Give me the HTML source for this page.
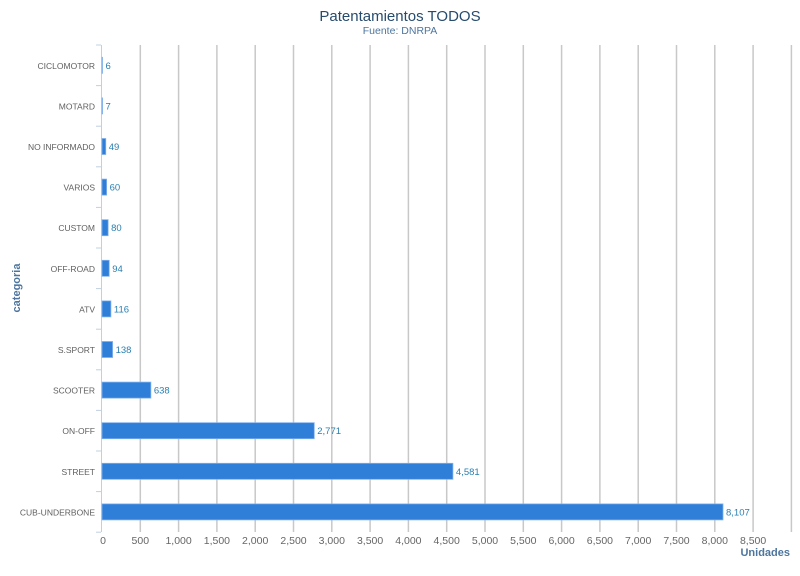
<!DOCTYPE html>
<html><head><meta charset="utf-8"><style>
html,body{margin:0;padding:0;background:#fff;}
svg text{font-family:"Liberation Sans","DejaVu Sans",sans-serif;}
</style></head><body>
<svg width="800" height="571" xmlns="http://www.w3.org/2000/svg">
<rect width="800" height="571" fill="#fff"/>
<text x="400" y="21" text-anchor="middle" font-size="15" fill="#274b6d">Patentamientos TODOS</text>
<text x="400" y="34" text-anchor="middle" font-size="10.5" fill="#4d759e">Fuente: DNRPA</text>
<g stroke="#c8c8c8" stroke-width="1.5" id="grid"></g>
<line x1="101.5" y1="45" x2="101.5" y2="532" stroke="#c0d0e0" stroke-width="1"/>
<g id="ticks" stroke="#c0d0e0"></g>
<g id="bars"></g>
<g id="xl" font-size="10.5" fill="#666" text-anchor="middle"></g>
<text x="790" y="556" text-anchor="end" font-size="11" font-weight="bold" fill="#4d759e">Unidades</text>
<text transform="translate(20,288) rotate(-90)" text-anchor="middle" font-size="11" font-weight="bold" fill="#4d759e">categoria</text>
</svg>
<script>
(function(){
var ns="http://www.w3.org/2000/svg";
function el(p,t,a,txt){var e=document.createElementNS(ns,t);for(var k in a)e.setAttribute(k,a[k]);if(txt!=null)e.textContent=txt;document.getElementById(p).appendChild(e);}
var s=76.6/1000,x0=102;
for(var i=1;i<=18;i++){var x=x0+i*500*s;el("grid","line",{x1:x,y1:45,x2:x,y2:532});}
for(var i=0;i<=17;i++){el("xl","text",{x:x0+i*500*s+(i==0?1:0),y:544},(i*500).toLocaleString("en-US"));}
var d=[["CICLOMOTOR",6],["MOTARD",7],["NO INFORMADO",49],["VARIOS",60],["CUSTOM",80],["OFF-ROAD",94],["ATV",116],["S.SPORT",138],["SCOOTER",638],["ON-OFF",2771],["STREET",4581],["CUB-UNDERBONE",8107]];
var y0=45,h=40.6;
for(var i=0;i<=12;i++){var y=y0+i*h;el("ticks","line",{x1:96,y1:y,x2:101,y2:y});}
d.forEach(function(r,i){var c=y0+h*i+h/2;var w=r[1]*s;
el("bars","rect",{x:102,y:c-8,width:Math.max(w,0.5),height:16,fill:"#2f7ed8",stroke:"#7fb0ec","stroke-width":0.8});
el("bars","text",{x:95,y:c+3.5,"text-anchor":"end","font-size":"8.5",fill:"#606060"},r[0]);
el("bars","text",{x:102+w+3,y:c+3.5,"font-size":"9.5",fill:"#2a7fb0"},r[1].toLocaleString("en-US"));});
})();
</script>
</body></html>
